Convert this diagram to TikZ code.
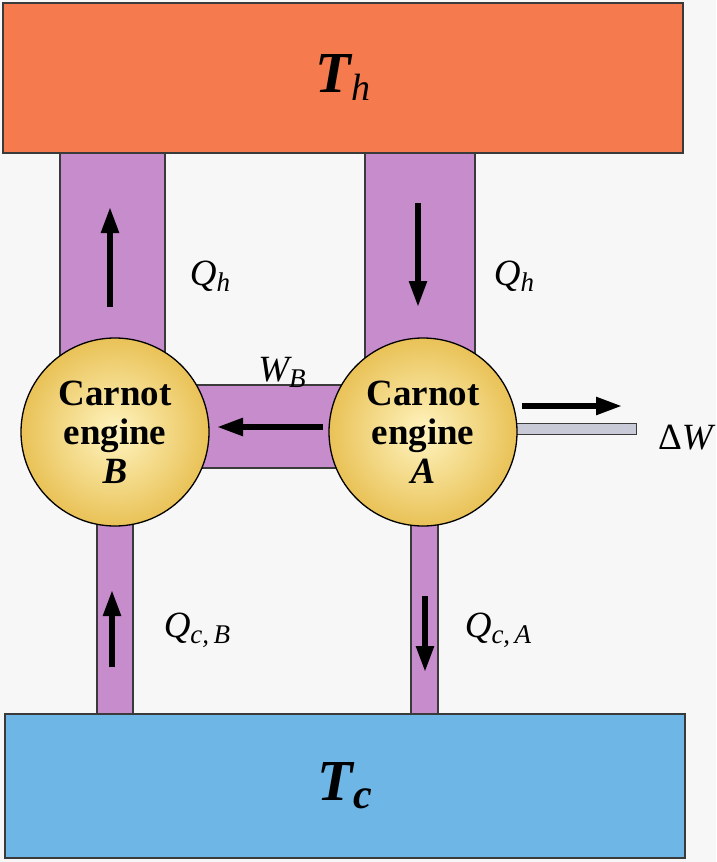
\documentclass[tikz,border=0pt]{standalone}
\usepackage{fontspec}
\setmainfont{Liberation Serif}
\usetikzlibrary{arrows.meta}
\definecolor{hotres}{HTML}{F57A4E}
\definecolor{coldres}{HTML}{6EB6E6}
\definecolor{pipec}{HTML}{C78CCB}
\definecolor{engout}{HTML}{E9C257}
\definecolor{engin}{HTML}{FFF4C0}
\definecolor{barc}{HTML}{C9CAD8}
\definecolor{edge}{HTML}{3A3A3A}
\tikzset{
  pipe/.style={fill=pipec, draw=edge, line width=1.2pt},
  reservoir/.style={draw=edge, line width=1.5pt, minimum width=680pt, inner sep=0pt},
  engine/.style={circle, draw=black, line width=1.3pt, minimum size=188pt, inner sep=0pt,
    shading=radial, inner color=engin, outer color=engout, align=center,
    font=\fontsize{37}{39}\selectfont\bfseries},
  flow/.style={line width=5.5pt, -{Triangle[length=26pt,width=17pt]}},
  lbl/.style={font=\fontsize{37}{40}\selectfont\itshape, inner sep=0pt},
}
\newcommand{\subs}[1]{\raisebox{-0.35ex}{\fontsize{27}{28}\selectfont #1}}
\begin{document}
\begin{tikzpicture}[x=1pt,y=-1pt]
\useasboundingbox (0,0) rectangle (716,862);
\fill[white!97!black] (0,0) rectangle (716,862);
% pipes
\draw[pipe] (60,150) rectangle (165,390);
\draw[pipe] (365,150) rectangle (475,390);
\draw[pipe] (185,385) rectangle (345,468);
\draw[pipe] (97,480) rectangle (133,716);
\draw[pipe] (411,480) rectangle (438,716);
\draw[fill=barc, draw=edge, line width=1pt] (500,423) rectangle (636,434);
% engines
\node[engine] (B) at (115,432) {Carnot\\engine\\\textit{B}};
\node[engine] (A) at (423,432) {Carnot\\engine\\\textit{A}};
% reservoirs
\node[reservoir, fill=hotres, minimum height=150pt] (hot) at (343,78)
  {\fontsize{58}{60}\selectfont\bfseries\itshape T\raisebox{-0.3ex}{\fontsize{38}{40}\selectfont\mdseries h}};
\node[reservoir, fill=coldres, minimum height=144pt] (cold) at (345,786)
  {\fontsize{58}{60}\selectfont\bfseries\itshape T\raisebox{-0.3ex}{\fontsize{42}{44}\selectfont c}};
% arrow coordinates
\coordinate (b1) at (110,307); \coordinate (b2) at (110,207);
\coordinate (a1) at (418,203); \coordinate (a2) at (418,307);
\coordinate (w1) at (323,427); \coordinate (w2) at (217,427);
\coordinate (d1) at (522,406); \coordinate (d2) at (622,406);
\coordinate (cb1) at (112,667); \coordinate (cb2) at (112,590);
\coordinate (ca1) at (425,596); \coordinate (ca2) at (425,672);
\draw[flow] (b1) -- (b2);
\draw[flow] (a1) -- (a2);
\draw[flow] (w1) -- (w2);
\draw[flow] (d1) -- (d2);
\draw[flow] (cb1) -- (cb2);
\draw[flow] (ca1) -- (ca2);
% labels
\node[lbl] (qhb) at (210,276) {Q\subs{h}};
\node[lbl] (qha) at (514,276) {Q\subs{h}};
\node[lbl] (wb) at (282,372) {W\subs{\textit{B}}};
\node[lbl, anchor=east] (dw) at (713,438) {\upshape Δ\itshape W};
\node[lbl] (qcb) at (197,630) {Q\subs{c,\,B}};
\node[lbl] (qca) at (498,630) {Q\subs{c,\,A}};
\end{tikzpicture}
\end{document}
